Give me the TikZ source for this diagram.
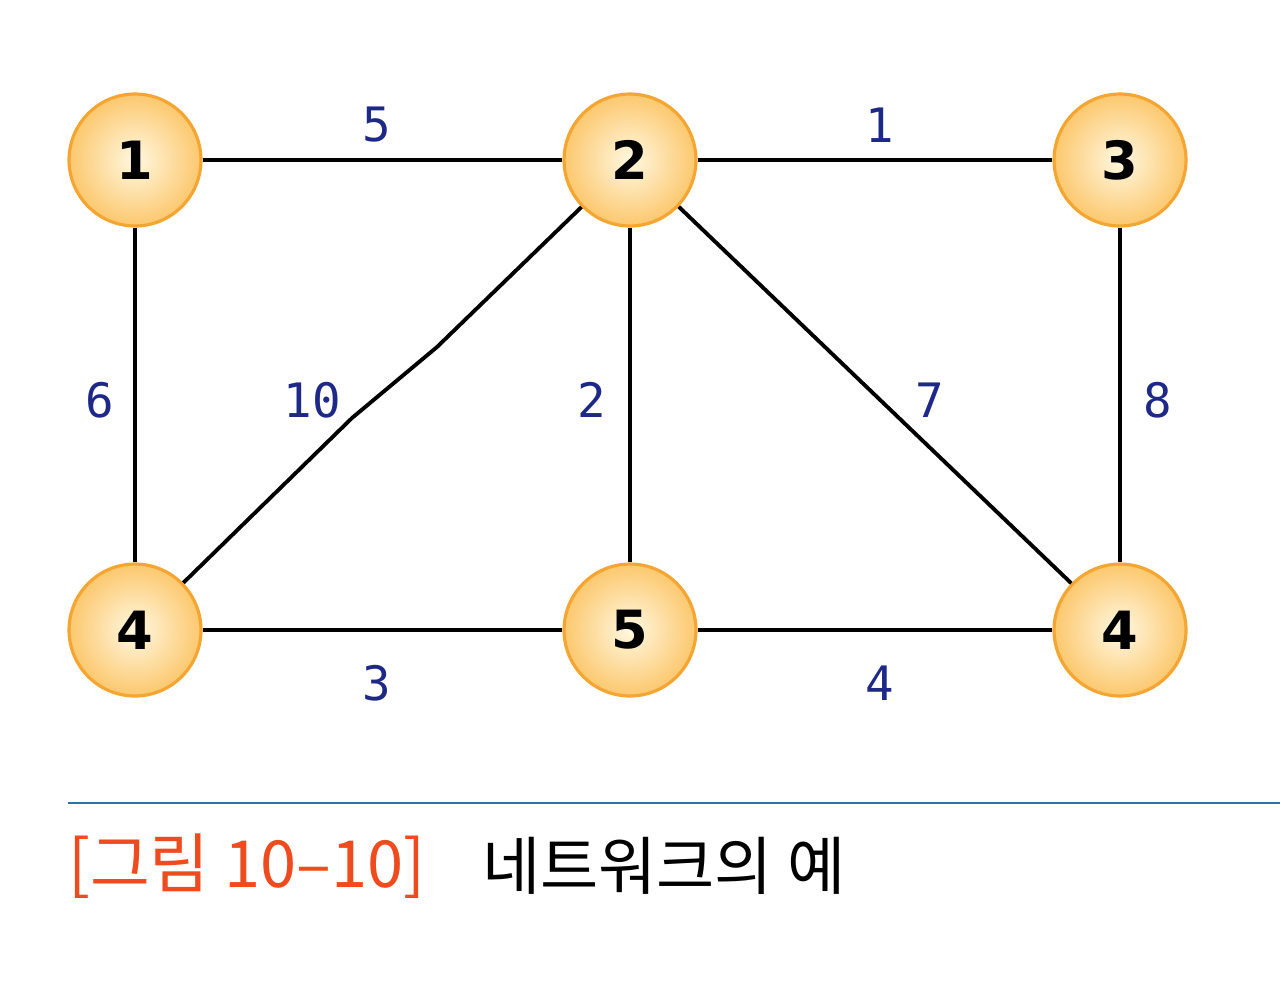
\documentclass[tikz,border=0pt]{standalone}
\usepackage{fontspec}
\setmainfont{DejaVu Sans}
\newfontfamily\wfont{DejaVu Sans Mono}
\newfontfamily\krfont{Noto Sans CJK KR}
\definecolor{ringor}{RGB}{245,165,50}
\definecolor{coreye}{RGB}{255,248,225}
\definecolor{outye}{RGB}{252,200,110}
\definecolor{wblue}{RGB}{30,40,135}
\definecolor{capred}{RGB}{238,75,30}
\definecolor{rule}{RGB}{45,115,160}

\begin{document}
\begin{tikzpicture}[x=0.02cm, y=-0.02cm,
    vertex/.style={circle, minimum size=2.64cm, inner sep=0pt, draw=ringor, line width=1.8pt,
      inner color=coreye, outer color=outye, font=\fontsize{30}{34}\selectfont\bfseries},
    link/.style={line width=2.2pt, black},
    weight/.style={text=wblue, font=\wfont\fontsize{27}{30}\selectfont}]
      \useasboundingbox (0,0) rectangle (1280,991);
      % sommets
      \node[vertex] (v1) at (135,160) {1};
      \node[vertex] (v2) at (630,160) {2};
      \node[vertex] (v3) at (1120,160) {3};
      \node[vertex] (v4) at (135,630) {4};
      \node[vertex] (v5) at (630,630) {5};
      \node[vertex] (v6) at (1120,630) {4};
      % coude de l'arete 10
      \coordinate (k1) at (352,418);
      \coordinate (k2) at (437,347);
      % aretes
      \draw[link] (v1) -- (v2);
      \draw[link] (v2) -- (v3);
      \draw[link] (v1) -- (v4);
      \draw[link] (v3) -- (v6);
      \draw[link] (v2) -- (v5);
      \draw[link] (v2) -- (v6);
      \draw[link] (v4) -- (v5);
      \draw[link] (v5) -- (v6);
      \draw[link] (v4) -- (k1) -- (k2) -- (v2);
      % poids
      \node[weight] (w12) at (377,125) {5};
      \node[weight] (w23) at (880,125) {1};
      \node[weight] (w14) at (100,400) {6};
      \node[weight] (w42) at (312,400) {10};
      \node[weight] (w25) at (592,400) {2};
      \node[weight] (w26) at (930,400) {7};
      \node[weight] (w36) at (1158,400) {8};
      \node[weight] (w45) at (377,683) {3};
      \node[weight] (w56) at (880,683) {4};
      % legende
      \draw[rule, line width=1.6pt] (68,803) -- (1280,803);
      \node[anchor=west, text=capred, font=\krfont\fontsize{37}{42}\selectfont] (capnum) at (62,866) {[그림 10–10]};
      \node[anchor=west, font=\krfont\fontsize{36}{42}\selectfont] (captxt) at (476,866) {네트워크의 예};
    \end{tikzpicture}
\end{document}
